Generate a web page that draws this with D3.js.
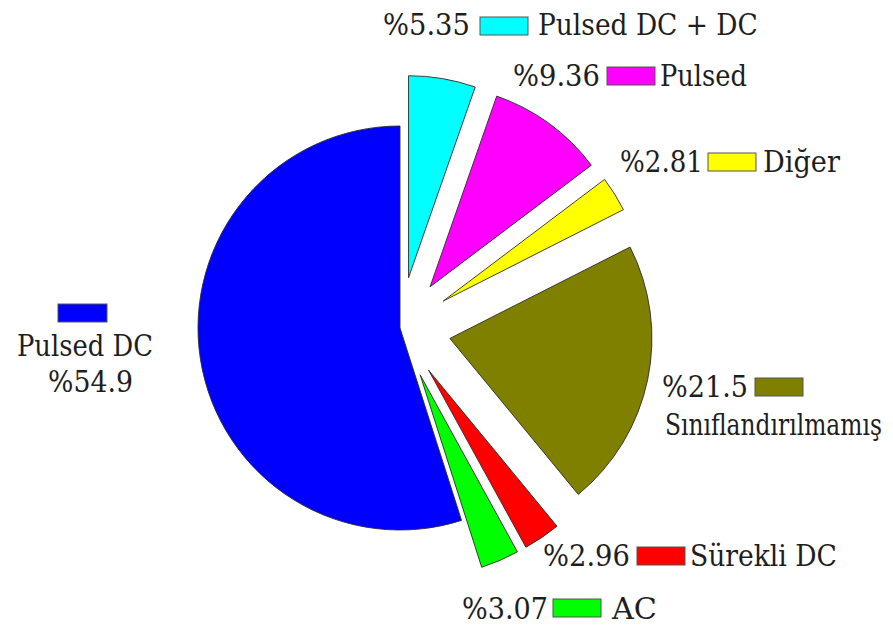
<!DOCTYPE html>
<html>
<head>
<meta charset="utf-8">
<script src="https://cdn.jsdelivr.net/npm/d3@7/dist/d3.min.js"></script>
<style>
  html, body { margin: 0; padding: 0; background: #fff; }
  svg { display: block; }
</style>
</head>
<body>
<svg id="chart" width="893" height="633"></svg>
<script>
// ---- data ----
const categories = ["Pulsed DC + DC", "Pulsed", "Diğer", "Sınıflandırılmamış", "Sürekli DC", "AC", "Pulsed DC"];
const values = [5.35, 9.36, 2.81, 21.5, 2.96, 3.07, 54.9];
const valueLabels = ["%5.35", "%9.36", "%2.81", "%21.5", "%2.96", "%3.07", "%54.9"];
const colors = ["#00FFFF", "#FF00FF", "#FFFF00", "#808000", "#FF0000", "#00FF00", "#0000FF"];
const exploded = [true, true, true, true, true, true, false];

// ---- layout ----
const cx = 400, cy = 328, R = 202, explode = 51;
const fontFamily = "'DejaVu Serif', 'Liberation Serif', 'Times New Roman', serif";
const fontSize = 29;
const textColor = "#1e1e1e";

const svg = d3.select("#chart");

const pie = d3.pie().sort(null).value(d => d).startAngle(0).endAngle(2 * Math.PI);
const arcs = pie(values);
const arc = d3.arc().innerRadius(0).outerRadius(R);

const g = svg.append("g").attr("transform", `translate(${cx},${cy})`);

g.selectAll("path.slice")
  .data(arcs)
  .enter()
  .append("path")
  .attr("class", "slice")
  .attr("d", arc)
  .attr("fill", (d, i) => colors[i])
  .attr("stroke", "#2a2a2a")
  .attr("stroke-width", 0.9)
  .attr("stroke-linejoin", "round")
  .attr("transform", (d, i) => {
    if (!exploded[i]) return null;
    const mid = (d.startAngle + d.endAngle) / 2;
    return `translate(${explode * Math.sin(mid)},${-explode * Math.cos(mid)})`;
  });

// ---- label placement (value text, legend box, name text) ----
const inlineLayout = [
  { vx: 383, vw: 87, bx: 480, by: 17, nx: 538, nw: 220, y: 35 },
  { vx: 513, vw: 87, bx: 607, by: 67, nx: 660, nw: 87, y: 86 },
  { vx: 620, vw: 83, bx: 708, by: 153, nx: 763, nw: 77, y: 172 },
  { vx: 662, vw: 86, bx: 755, by: 378, nx: 665, nw: 217, y: 397, ny: 435 },
  { vx: 543, vw: 87, bx: 637, by: 547, nx: 690, nw: 147, y: 566 },
  { vx: 462, vw: 86, bx: 553, by: 599, nx: 612, nw: 45, y: 619 }
];
const boxW = 48, boxH = 18;

const labels = svg.append("g")
  .attr("font-family", fontFamily)
  .attr("font-size", fontSize)
  .attr("fill", textColor);

// text condensed horizontally to the reference width via a scale transform
function addText(x, y, w, str) {
  const t = labels.append("text").attr("x", 0).attr("y", 0).text(str);
  const natural = t.node().getComputedTextLength() || w;
  const sx = w / natural;
  t.attr("transform", `translate(${x},${y}) scale(${sx},1)`);
}

inlineLayout.forEach((L, i) => {
  addText(L.vx, L.y, L.vw, valueLabels[i]);
  labels.append("rect")
    .attr("x", L.bx).attr("y", L.by).attr("width", boxW).attr("height", boxH)
    .attr("fill", colors[i]).attr("stroke", "#555").attr("stroke-width", 1);
  addText(L.nx, L.ny || L.y, L.nw, categories[i]);
});

// Pulsed DC (left)
labels.append("rect")
  .attr("x", 58).attr("y", 304).attr("width", 49).attr("height", 18)
  .attr("fill", colors[6]).attr("stroke", "#555").attr("stroke-width", 1);
addText(17, 356, 136, categories[6]);
addText(48, 392, 85, valueLabels[6]);
</script>
</body>
</html>
